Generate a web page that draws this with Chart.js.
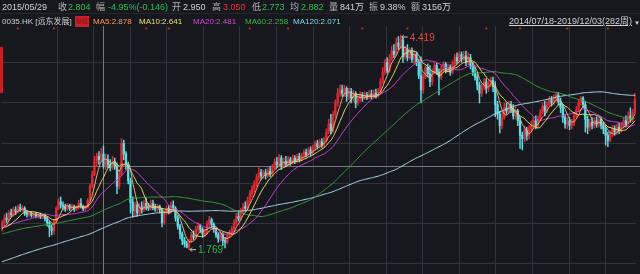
<!DOCTYPE html>
<html>
<head>
<meta charset="utf-8">
<script src="https://cdn.jsdelivr.net/npm/chart.js@4"></script>
<style>
html, body { margin: 0; padding: 0; background: #16181d; width: 640px; height: 274px; overflow: hidden; }
body { position: relative; font-family: "Liberation Sans", "Noto Sans CJK SC", sans-serif; }
.t { position: absolute; white-space: nowrap; line-height: 1; }
.r1 { top: 3px; font-size: 9px; }
.r2 { top: 18px; font-size: 8px; }
.g { color: #b4b4b4; }
.w { color: #d2d2d2; }
.dn { color: #2fbf4f; }
.up { color: #e8323a; }
#tag { position: absolute; left: 75px; top: 16px; width: 14px; height: 11px; background: #c8202a; color: #7a1016; font-size: 6px; line-height: 11px; text-align: center; }
#sep { position: absolute; left: 0; top: 13px; width: 640px; height: 1px; background: #24262c; }
#redbar { position: absolute; left: 0; top: 47px; width: 3px; height: 46px; background: #c81e28; }
#wrap { position: absolute; left: 0; top: 26px; }
</style>
</head>
<body>
<div id="wrap"><canvas id="kline" width="640" height="248"></canvas></div>
<div id="sep"></div>
<div id="redbar"></div>

<span class="t r1 w" style="left:2px">2015/05/29</span>
<span class="t r1 g" style="left:58px">收</span>
<span class="t r1 dn" style="left:68px">2.804</span>
<span class="t r1 g" style="left:96px">幅</span>
<span class="t r1 dn" style="left:108px">-4.95%(-0.146)</span>
<span class="t r1 g" style="left:172px">开</span>
<span class="t r1 w" style="left:183px">2.950</span>
<span class="t r1 g" style="left:212px">高</span>
<span class="t r1 up" style="left:223px">3.050</span>
<span class="t r1 g" style="left:252px">低</span>
<span class="t r1 dn" style="left:262px">2.773</span>
<span class="t r1 g" style="left:290px">均</span>
<span class="t r1 dn" style="left:301px">2.882</span>
<span class="t r1 g" style="left:329px">量</span>
<span class="t r1 w" style="left:340px">841万</span>
<span class="t r1 g" style="left:369px">振</span>
<span class="t r1 w" style="left:380px">9.38%</span>
<span class="t r1 g" style="left:411px">额</span>
<span class="t r1 w" style="left:422px">3156万</span>

<span class="t r2 w" style="left:2px">0035.HK [远东发展]</span>
<div id="tag">除权</div>
<span class="t r2" style="left:93px;color:#f0a055">MA5:2.878</span>
<span class="t r2" style="left:139px;color:#e8e070">MA10:2.641</span>
<span class="t r2" style="left:193px;color:#d048d8">MA20:2.481</span>
<span class="t r2" style="left:245px;color:#46b046">MA60:2.258</span>
<span class="t r2" style="left:293px;color:#86d6e6">MA120:2.071</span>
<span class="t w" style="right:8px;top:17px;font-size:9px;text-decoration:underline">2014/07/18-2019/12/03(282周)</span>
<span class="t w" style="left:634px;font-size:6px;top:20px">▼</span>

<script>
// weekly candles 0035.HK, 2014/07/18 - 2019/12/03
var opens = [
  2.02,2.10,2.16,2.14,2.22,2.20,2.26,2.24,2.29,2.27,
  2.28,2.22,2.20,2.22,2.19,2.21,2.18,2.20,2.17,2.19,
  2.15,2.10,2.04,2.00,2.12,2.28,2.36,2.32,2.30,2.27,
  2.31,2.28,2.30,2.27,2.29,2.34,2.30,2.27,2.29,2.38,
  2.55,2.70,2.85,2.92,2.88,2.95,2.80,2.88,2.82,2.78,
  2.86,2.80,2.55,2.70,3.08,2.95,2.82,2.62,2.35,2.25,
  2.32,2.22,2.30,2.26,2.34,2.30,2.28,2.34,2.30,2.27,
  2.30,2.26,2.10,2.22,2.28,2.24,2.32,2.28,2.16,2.06,
  1.96,1.88,1.84,1.80,1.88,1.95,1.92,2.02,2.06,2.02,
  1.96,1.98,2.08,2.14,2.08,2.02,1.95,1.90,1.96,1.88,
  1.86,1.94,1.98,2.03,2.10,2.18,2.15,2.24,2.30,2.28,
  2.38,2.46,2.52,2.58,2.66,2.72,2.68,2.72,2.68,2.74,
  2.70,2.78,2.85,2.82,2.90,2.80,2.86,2.82,2.88,2.84,
  2.90,2.86,2.92,2.88,2.93,2.97,2.94,3.00,2.96,3.02,
  3.08,3.04,3.10,3.06,3.12,3.22,3.32,3.24,3.44,3.58,
  3.70,3.74,3.70,3.76,3.66,3.72,3.64,3.70,3.58,3.64,
  3.68,3.64,3.68,3.65,3.69,3.66,3.70,3.67,3.72,3.84,
  3.96,4.08,3.98,4.12,4.22,4.18,4.32,4.28,4.36,4.15,
  4.24,4.14,4.22,4.12,4.18,4.08,3.92,3.74,3.90,4.02,
  3.94,3.84,3.96,4.04,3.96,3.90,4.00,4.06,3.98,4.02,
  3.96,4.06,4.14,4.10,4.18,4.12,4.16,4.08,4.14,4.04,
  3.96,3.90,3.80,3.70,3.78,3.84,3.76,3.82,3.86,3.78,
  3.56,3.44,3.30,3.40,3.52,3.48,3.56,3.50,3.42,3.48,
  3.36,3.18,3.14,3.24,3.18,3.26,3.30,3.36,3.30,3.38,
  3.46,3.54,3.48,3.56,3.62,3.58,3.64,3.68,3.60,3.52,
  3.40,3.32,3.36,3.30,3.34,3.42,3.50,3.58,3.64,3.56,
  3.38,3.28,3.34,3.30,3.36,3.32,3.38,3.30,3.26,3.18,
  3.12,3.20,3.26,3.22,3.28,3.24,3.30,3.36,3.32,3.42,
  3.38,3.46
];
var highs = [
  2.13,2.20,2.22,2.25,2.27,2.29,2.30,2.32,2.33,2.31,
  2.30,2.25,2.24,2.24,2.23,2.23,2.22,2.22,2.21,2.21,
  2.17,2.12,2.08,2.14,2.30,2.40,2.42,2.36,2.33,2.34,
  2.33,2.33,2.32,2.31,2.38,2.40,2.32,2.31,2.40,2.58,
  2.74,2.92,2.96,2.98,3.02,3.05,2.95,2.94,2.88,2.92,
  2.90,2.84,2.75,3.14,3.12,2.98,2.85,2.65,2.42,2.36,
  2.36,2.34,2.36,2.38,2.40,2.34,2.38,2.38,2.33,2.33,
  2.32,2.28,2.25,2.31,2.31,2.36,2.37,2.30,2.19,2.08,
  1.99,1.92,1.87,1.90,1.98,2.00,2.06,2.10,2.08,2.04,
  2.02,2.12,2.18,2.16,2.10,2.04,1.98,1.99,1.98,1.92,
  1.97,2.01,2.06,2.14,2.22,2.25,2.28,2.34,2.36,2.42,
  2.50,2.56,2.62,2.70,2.78,2.76,2.75,2.76,2.78,2.79,
  2.82,2.89,2.91,2.95,2.93,2.90,2.92,2.92,2.91,2.94,
  2.93,2.95,2.96,2.96,3.00,3.01,3.03,3.04,3.06,3.11,
  3.12,3.13,3.14,3.16,3.26,3.38,3.44,3.48,3.62,3.76,
  3.80,3.80,3.80,3.78,3.76,3.76,3.74,3.72,3.68,3.72,
  3.71,3.72,3.71,3.73,3.74,3.74,3.75,3.76,3.88,4.02,
  4.12,4.14,4.18,4.28,4.30,4.38,4.40,4.419,4.38,4.28,
  4.30,4.26,4.26,4.22,4.21,4.12,4.15,3.94,4.05,4.06,
  4.04,4.00,4.08,4.07,4.00,4.04,4.09,4.08,4.06,4.05,
  4.10,4.18,4.20,4.22,4.21,4.22,4.22,4.20,4.18,4.08,
  4.02,3.94,3.84,3.82,3.88,3.88,3.86,3.90,3.90,3.84,
  3.60,3.48,3.46,3.58,3.58,3.60,3.60,3.56,3.54,3.50,
  3.40,3.22,3.29,3.28,3.30,3.36,3.41,3.42,3.42,3.50,
  3.58,3.60,3.60,3.66,3.66,3.68,3.71,3.71,3.64,3.56,
  3.44,3.40,3.40,3.38,3.46,3.54,3.62,3.66,3.66,3.60,
  3.42,3.38,3.40,3.40,3.41,3.41,3.41,3.34,3.30,3.22,
  3.24,3.30,3.30,3.32,3.33,3.34,3.40,3.42,3.47,3.52,
  3.50,3.70
];
var lows = [
  2.00,2.07,2.10,2.12,2.17,2.18,2.20,2.22,2.24,2.24,
  2.19,2.17,2.18,2.17,2.17,2.16,2.16,2.15,2.15,2.12,
  2.06,1.93,1.95,1.96,2.10,2.26,2.28,2.26,2.24,2.25,
  2.25,2.26,2.24,2.25,2.27,2.28,2.25,2.25,2.28,2.37,
  2.53,2.68,2.80,2.82,2.86,2.773,2.76,2.78,2.74,2.76,
  2.76,2.46,2.52,2.68,2.88,2.76,2.58,2.22,2.17,2.18,
  2.18,2.19,2.22,2.24,2.26,2.25,2.26,2.26,2.24,2.24,
  2.22,2.05,2.08,2.20,2.21,2.22,2.26,2.12,2.02,1.90,
  1.83,1.80,1.79,1.769,1.86,1.89,1.90,1.99,1.98,1.92,
  1.93,1.96,2.05,2.04,1.98,1.92,1.86,1.87,1.82,1.79,
  1.84,1.91,1.95,2.00,2.07,2.12,2.13,2.21,2.24,2.26,
  2.35,2.42,2.48,2.55,2.62,2.64,2.65,2.64,2.66,2.67,
  2.68,2.76,2.78,2.80,2.76,2.78,2.79,2.80,2.81,2.82,
  2.83,2.84,2.85,2.86,2.90,2.91,2.92,2.93,2.94,2.99,
  3.01,3.02,3.03,3.04,3.10,3.20,3.20,3.22,3.40,3.54,
  3.66,3.66,3.66,3.60,3.62,3.58,3.60,3.52,3.55,3.60,
  3.60,3.62,3.62,3.63,3.63,3.64,3.64,3.65,3.70,3.82,
  3.93,3.95,3.96,4.10,4.14,4.16,4.24,4.25,4.08,4.12,
  4.10,4.12,4.08,4.06,4.04,3.88,3.58,3.70,3.88,3.90,
  3.78,3.80,3.94,3.93,3.68,3.87,3.97,3.95,3.96,3.92,
  3.94,4.04,4.06,4.08,4.08,4.10,4.04,4.05,4.00,3.92,
  3.86,3.74,3.58,3.66,3.74,3.70,3.72,3.78,3.72,3.41,
  3.38,3.21,3.26,3.38,3.44,3.45,3.46,3.38,3.38,3.30,
  3.02,3.00,3.10,3.12,3.14,3.22,3.27,3.26,3.28,3.36,
  3.44,3.42,3.46,3.54,3.54,3.56,3.60,3.56,3.46,3.34,
  3.27,3.26,3.25,3.26,3.30,3.40,3.47,3.55,3.52,3.22,
  3.20,3.24,3.26,3.27,3.28,3.28,3.26,3.20,3.06,3.04,
  3.10,3.16,3.18,3.19,3.20,3.22,3.27,3.28,3.30,3.34,
  3.35,3.44
];
var closes = [
  2.10,2.16,2.14,2.22,2.20,2.26,2.24,2.29,2.27,2.28,
  2.22,2.20,2.22,2.19,2.21,2.18,2.20,2.17,2.19,2.15,
  2.10,2.04,2.00,2.12,2.28,2.36,2.32,2.30,2.27,2.31,
  2.28,2.30,2.27,2.29,2.34,2.30,2.27,2.29,2.38,2.55,
  2.70,2.85,2.92,2.88,2.95,2.804,2.88,2.82,2.78,2.86,
  2.80,2.55,2.70,3.08,2.95,2.82,2.62,2.35,2.25,2.32,
  2.22,2.30,2.26,2.34,2.30,2.28,2.34,2.30,2.27,2.30,
  2.26,2.10,2.22,2.28,2.24,2.32,2.28,2.16,2.06,1.96,
  1.88,1.84,1.80,1.86,1.95,1.92,2.02,2.06,2.02,1.96,
  1.98,2.08,2.14,2.08,2.02,1.95,1.90,1.96,1.88,1.86,
  1.94,1.98,2.03,2.10,2.18,2.15,2.24,2.30,2.28,2.38,
  2.46,2.52,2.58,2.66,2.72,2.68,2.72,2.68,2.74,2.70,
  2.78,2.85,2.82,2.90,2.80,2.86,2.82,2.88,2.84,2.90,
  2.86,2.92,2.88,2.93,2.97,2.94,3.00,2.96,3.02,3.08,
  3.04,3.10,3.06,3.12,3.22,3.32,3.24,3.44,3.58,3.70,
  3.74,3.70,3.76,3.66,3.72,3.64,3.70,3.58,3.64,3.68,
  3.64,3.68,3.65,3.69,3.66,3.70,3.67,3.72,3.84,3.96,
  4.08,3.98,4.12,4.22,4.18,4.32,4.28,4.36,4.15,4.24,
  4.14,4.22,4.12,4.18,4.08,3.92,3.74,3.90,4.02,3.94,
  3.84,3.96,4.04,3.96,3.90,4.00,4.06,3.98,4.02,3.96,
  4.06,4.14,4.10,4.18,4.12,4.16,4.08,4.14,4.04,3.96,
  3.90,3.80,3.70,3.78,3.84,3.76,3.82,3.86,3.78,3.56,
  3.44,3.30,3.40,3.52,3.48,3.56,3.50,3.42,3.48,3.36,
  3.18,3.14,3.24,3.18,3.26,3.30,3.36,3.30,3.38,3.46,
  3.54,3.48,3.56,3.62,3.58,3.64,3.68,3.60,3.52,3.40,
  3.32,3.36,3.30,3.34,3.42,3.50,3.58,3.64,3.56,3.38,
  3.28,3.34,3.30,3.36,3.32,3.38,3.30,3.26,3.18,3.12,
  3.20,3.26,3.22,3.28,3.24,3.30,3.36,3.32,3.42,3.38,
  3.46,3.62
];
// closes of the 120 weeks before the window, only used by the moving averages
var priorCloses = [
  1.02,1.00,1.03,1.05,1.04,1.06,1.08,1.07,1.05,1.08,
  1.10,1.12,1.11,1.13,1.15,1.14,1.12,1.15,1.17,1.16,
  1.18,1.20,1.19,1.22,1.24,1.23,1.21,1.24,1.26,1.25,
  1.27,1.29,1.28,1.30,1.32,1.31,1.29,1.32,1.34,1.33,
  1.35,1.37,1.36,1.38,1.40,1.39,1.37,1.40,1.42,1.41,
  1.43,1.45,1.44,1.46,1.48,1.47,1.50,1.54,1.58,1.62,
  1.66,1.70,1.74,1.78,1.76,1.80,1.84,1.82,1.86,1.90,
  1.88,1.92,1.90,1.94,1.92,1.96,1.94,1.90,1.88,1.92,
  1.90,1.94,1.96,1.92,1.90,1.88,1.92,1.94,1.90,1.92,
  1.96,1.98,1.94,1.92,1.96,2.00,1.98,2.02,2.06,2.10,
  2.08,2.12,2.10,2.06,2.04,2.08,2.12,2.10,2.14,2.10,
  2.06,2.04,2.08,2.06,2.02,2.00,2.04,2.02,1.98,2.00
];
var maPeriods = [5, 10, 20, 60, 120];
var maColors = ['#f2b27a', '#e8e070', '#c844d4', '#3f9a3c', '#a9dceb'];
var dividendWeeks = [7, 23, 64, 74, 110, 127, 160, 180, 215, 230, 251, 269];
var crossWeek = 45, crossPrice = 2.804;
var highWeek = 177, highPrice = 4.419;
var lowWeek = 83, lowPrice = 1.769;
var yGridTicks = [1.6, 2.095, 2.59, 3.085, 3.58, 4.075];
var xGridTicks = [24.8, 42.2, 59.6, 77.0, 94.4, 111.8, 129.2, 146.6, 164.0, 181.4, 198.8, 216.2, 233.6, 251.0, 268.4];

var UP = '#e8262f', DOWN = '#57e3ec', GRID = '#30333a';

// week labels (last bar is the running week)
var weeks = [];
var d = new Date(2014, 6, 18);
for (var i = 0; i < closes.length; i++) {
    weeks.push(d.getFullYear() + '/' + String(d.getMonth() + 1).padStart(2, '0') + '/' + String(d.getDate()).padStart(2, '0'));
    d.setDate(d.getDate() + 7);
}
weeks[weeks.length - 1] = '2019/12/03';

var allCloses = priorCloses.concat(closes);
function ma(n) {
    return closes.map(function(c, i) {
        var end = priorCloses.length + i, s = 0;
        for (var k = end - n + 1; k <= end; k++) s += allCloses[k];
        return +(s / n).toFixed(3);
    });
}
function candleColor(c) {
    var i = c.dataIndex;
    return closes[i] >= opens[i] ? UP : DOWN;
}

var datasets = maPeriods.map(function(n, k) {
    return {
        type: 'line', label: 'MA' + n, data: ma(n),
        borderColor: maColors[k], borderWidth: 1, pointRadius: 0,
        tension: 0.2, order: 1
    };
});
datasets.push({
    type: 'bar', label: 'body', data: opens.map(function(o, i) { return [o, closes[i]]; }),
    backgroundColor: candleColor, barThickness: 1.6, grouped: false, minBarLength: 1, order: 3
});
datasets.push({
    type: 'bar', label: 'wick', data: lows.map(function(l, i) { return [l, highs[i]]; }),
    backgroundColor: candleColor, barThickness: 0.8, grouped: false, order: 4
});
datasets.push({
    type: 'line', label: 'dividend', data: closes.map(function(c, i) { return dividendWeeks.indexOf(i) >= 0 ? 4.5 : null; }),
    showLine: false, pointStyle: 'rect', pointRadius: 1.3, pointBackgroundColor: '#d42a2a',
    pointBorderWidth: 0, clip: false, order: 0
});

var marks = {
    id: 'marks',
    beforeDatasetsDraw: function(chart) {
        var c = chart.ctx, a = chart.chartArea, x = chart.scales.x, y = chart.scales.y;
        var cx = Math.round(x.getPixelForValue(crossWeek)) + 0.5;
        var cy = Math.round(y.getPixelForValue(crossPrice)) + 0.5;
        c.save();
        c.strokeStyle = '#75787e';
        c.lineWidth = 1;
        c.beginPath();
        c.moveTo(cx, 0); c.lineTo(cx, a.bottom);
        c.moveTo(0, cy); c.lineTo(chart.width, cy);
        c.stroke();
        c.restore();
    },
    afterDatasetsDraw: function(chart) {
        var c = chart.ctx, x = chart.scales.x, y = chart.scales.y;
        c.save();
        c.font = '10px "Liberation Sans", sans-serif';
        c.textBaseline = 'middle';
        // highest point
        var hx = x.getPixelForValue(highWeek) + 1, hy = y.getPixelForValue(highPrice) + 2;
        c.strokeStyle = '#c9c9c9';
        c.lineWidth = 1;
        c.beginPath();
        c.moveTo(hx, hy); c.lineTo(hx + 6, hy);
        c.moveTo(hx + 2, hy - 2); c.lineTo(hx, hy); c.lineTo(hx + 2, hy + 2);
        c.stroke();
        c.fillStyle = '#e0474b';
        c.fillText(highPrice.toFixed(3), hx + 8, hy + 1);
        // lowest point
        var lx = x.getPixelForValue(lowWeek) + 1, ly = y.getPixelForValue(lowPrice);
        c.strokeStyle = '#c9c9c9';
        c.beginPath();
        c.moveTo(lx, ly); c.lineTo(lx + 6, ly);
        c.moveTo(lx + 2, ly - 2); c.lineTo(lx, ly); c.lineTo(lx + 2, ly + 2);
        c.stroke();
        c.fillStyle = '#35b24c';
        c.fillText(lowPrice.toFixed(3), lx + 8, ly + 1);
        c.restore();
    }
};

var ctx = document.getElementById('kline');
var chart = new Chart(ctx, {
    type: 'bar',
    data: { labels: weeks, datasets: datasets },
    options: {
        responsive: false,
        animation: false,
        devicePixelRatio: 1,
        events: [],
        layout: { autoPadding: false, padding: { left: 1, right: 4, top: 0, bottom: 0 } },
        plugins: { legend: { display: false }, tooltip: { enabled: false } },
        scales: {
            x: { display: false, offset: true },
            xg: {
                type: 'linear', axis: 'x', position: 'bottom', min: -0.5, max: 281.5,
                grid: { color: GRID, drawTicks: false }, border: { display: false },
                ticks: { display: false },
                afterFit: function(s) { s.height = 0; },
                afterBuildTicks: function(s) { s.ticks = xGridTicks.map(function(v) { return { value: v }; }); }
            },
            y: {
                min: 1.468, max: 4.53,
                grid: { color: GRID, drawTicks: false }, border: { display: false },
                ticks: { display: false },
                afterFit: function(s) { s.width = 0; },
                afterBuildTicks: function(s) { s.ticks = yGridTicks.map(function(v) { return { value: v }; }); }
            }
        }
    },
    plugins: [marks]
});
</script>
</body>
</html>
